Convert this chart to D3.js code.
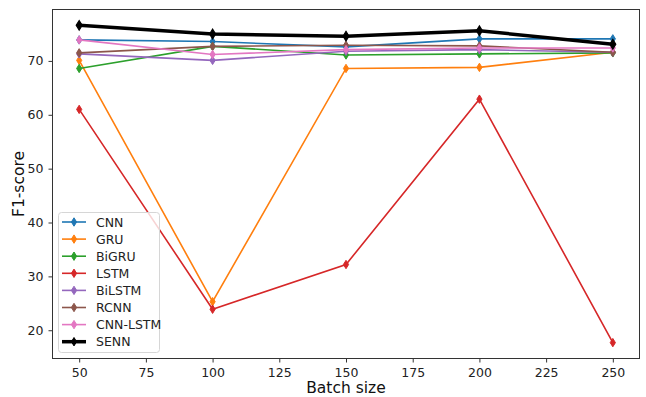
<!DOCTYPE html>
<html>
<head>
<meta charset="utf-8">
<script src="https://cdn.jsdelivr.net/npm/d3@7"></script>
<style>
  body { margin: 0; background: #fff; }
  svg { font-family: "DejaVu Sans", sans-serif; }
</style>
</head>
<body>
<div id="chart"></div>
<script>
const batchSizes = [50, 100, 150, 200, 250];
const seriesNames = ['CNN', 'GRU', 'BiGRU', 'LSTM', 'BiLSTM', 'RCNN', 'CNN-LSTM', 'SENN'];
const cnn = [73.9, 73.6, 72.6, 74.1, 74.1];
const gru = [70.1, 25.3, 68.6, 68.8, 71.6];
const bigru = [68.6, 72.7, 71.1, 71.3, 71.5];
const lstm = [61.0, 23.9, 32.2, 62.9, 17.7];
const bilstm = [71.3, 70.1, 71.8, 72.1, 71.6];
const rcnn = [71.5, 72.7, 72.9, 72.8, 71.6];
const cnnLstm = [73.9, 71.2, 72.1, 72.4, 72.4];
const senn = [76.6, 75.0, 74.6, 75.6, 73.1];
const xTicks = [50, 75, 100, 125, 150, 175, 200, 225, 250];
const yTicks = [20, 30, 40, 50, 60, 70];

const allSeries = [cnn, gru, bigru, lstm, bilstm, rcnn, cnnLstm, senn];
const colors = ['#1f77b4', '#ff7f0e', '#2ca02c', '#d62728', '#9467bd', '#8c564b', '#e377c2', '#000000'];

const width = 646;
const height = 397;
const margin = { top: 9.5, right: 6.5, bottom: 38.5, left: 52.5 };

const svg = d3.select('#chart')
  .append('svg')
  .attr('width', width)
  .attr('height', height);

const x = d3.scaleLinear().domain([40, 260]).range([margin.left, width - margin.right]);
const yMin = d3.min(allSeries, s => d3.min(s));
const yMax = d3.max(allSeries, s => d3.max(s));
const pad = (yMax - yMin) * 0.05;
const y = d3.scaleLinear().domain([yMin - pad, yMax + pad]).range([height - margin.bottom, margin.top]);

// axes
const xAxis = svg.append('g')
  .attr('transform', 'translate(0,' + (height - margin.bottom) + ')')
  .call(d3.axisBottom(x).tickValues(xTicks).tickSize(4).tickPadding(6).tickSizeOuter(0));
const yAxis = svg.append('g')
  .attr('transform', 'translate(' + margin.left + ',0)')
  .call(d3.axisLeft(y).tickValues(yTicks).tickSize(4).tickPadding(5).tickSizeOuter(0));

[xAxis, yAxis].forEach(a => {
  a.selectAll('text').attr('font-size', 12.5).attr('fill', '#222').attr('font-family', 'DejaVu Sans');
  a.selectAll('line').attr('stroke', '#333');
  a.select('.domain').remove();
});

svg.append('rect')
  .attr('x', margin.left)
  .attr('y', margin.top)
  .attr('width', width - margin.left - margin.right)
  .attr('height', height - margin.top - margin.bottom)
  .attr('fill', 'none')
  .attr('stroke', '#333')
  .attr('stroke-width', 1);

svg.append('text')
  .attr('x', (margin.left + width - margin.right) / 2)
  .attr('y', 393)
  .attr('text-anchor', 'middle')
  .attr('font-size', 15.5)
  .attr('fill', '#111')
  .text('Batch size');

svg.append('text')
  .attr('transform', 'translate(24,' + ((margin.top + height - margin.bottom) / 2) + ') rotate(-90)')
  .attr('text-anchor', 'middle')
  .attr('font-size', 15.5)
  .attr('fill', '#111')
  .text('F1-score');

const diamond = 'M0,-4.2L2.6,0L0,4.2L-2.6,0Z';

const line = d3.line()
  .x((d, i) => x(batchSizes[i]))
  .y(d => y(d));

const g = svg.append('g');
allSeries.forEach((s, k) => {
  const isSenn = seriesNames[k] === 'SENN';
  g.append('path')
    .attr('d', line(s))
    .attr('fill', 'none')
    .attr('stroke', colors[k])
    .attr('stroke-width', isSenn ? 3.5 : 1.6);
  g.selectAll('.m' + k)
    .data(s)
    .enter()
    .append('path')
    .attr('d', diamond)
    .attr('transform', (d, i) => 'translate(' + x(batchSizes[i]) + ',' + y(d) + ')' + (isSenn ? ' scale(1.15)' : ''))
    .attr('fill', colors[k])
    .attr('stroke', colors[k])
    .attr('stroke-width', 1);
});

// legend
const legend = svg.append('g');
const lx = 58.5, ly = 212.5, rowH = 17.1;
legend.append('rect')
  .attr('x', lx)
  .attr('y', ly)
  .attr('width', 101)
  .attr('height', 140)
  .attr('rx', 3)
  .attr('fill', 'rgba(255,255,255,0.8)')
  .attr('stroke', '#d6d6d6');

seriesNames.forEach((name, k) => {
  const cy = 222 + k * rowH;
  const isSenn = name === 'SENN';
  legend.append('line')
    .attr('x1', 62).attr('x2', 86)
    .attr('y1', cy).attr('y2', cy)
    .attr('stroke', colors[k])
    .attr('stroke-width', isSenn ? 3.5 : 1.6);
  legend.append('path')
    .attr('d', diamond)
    .attr('transform', 'translate(74,' + cy + ')')
    .attr('fill', colors[k])
    .attr('stroke', colors[k]);
  legend.append('text')
    .attr('x', 96)
    .attr('y', cy + 4.5)
    .attr('font-size', 12.5)
    .attr('fill', '#222')
    .text(name);
});
</script>
</body>
</html>
